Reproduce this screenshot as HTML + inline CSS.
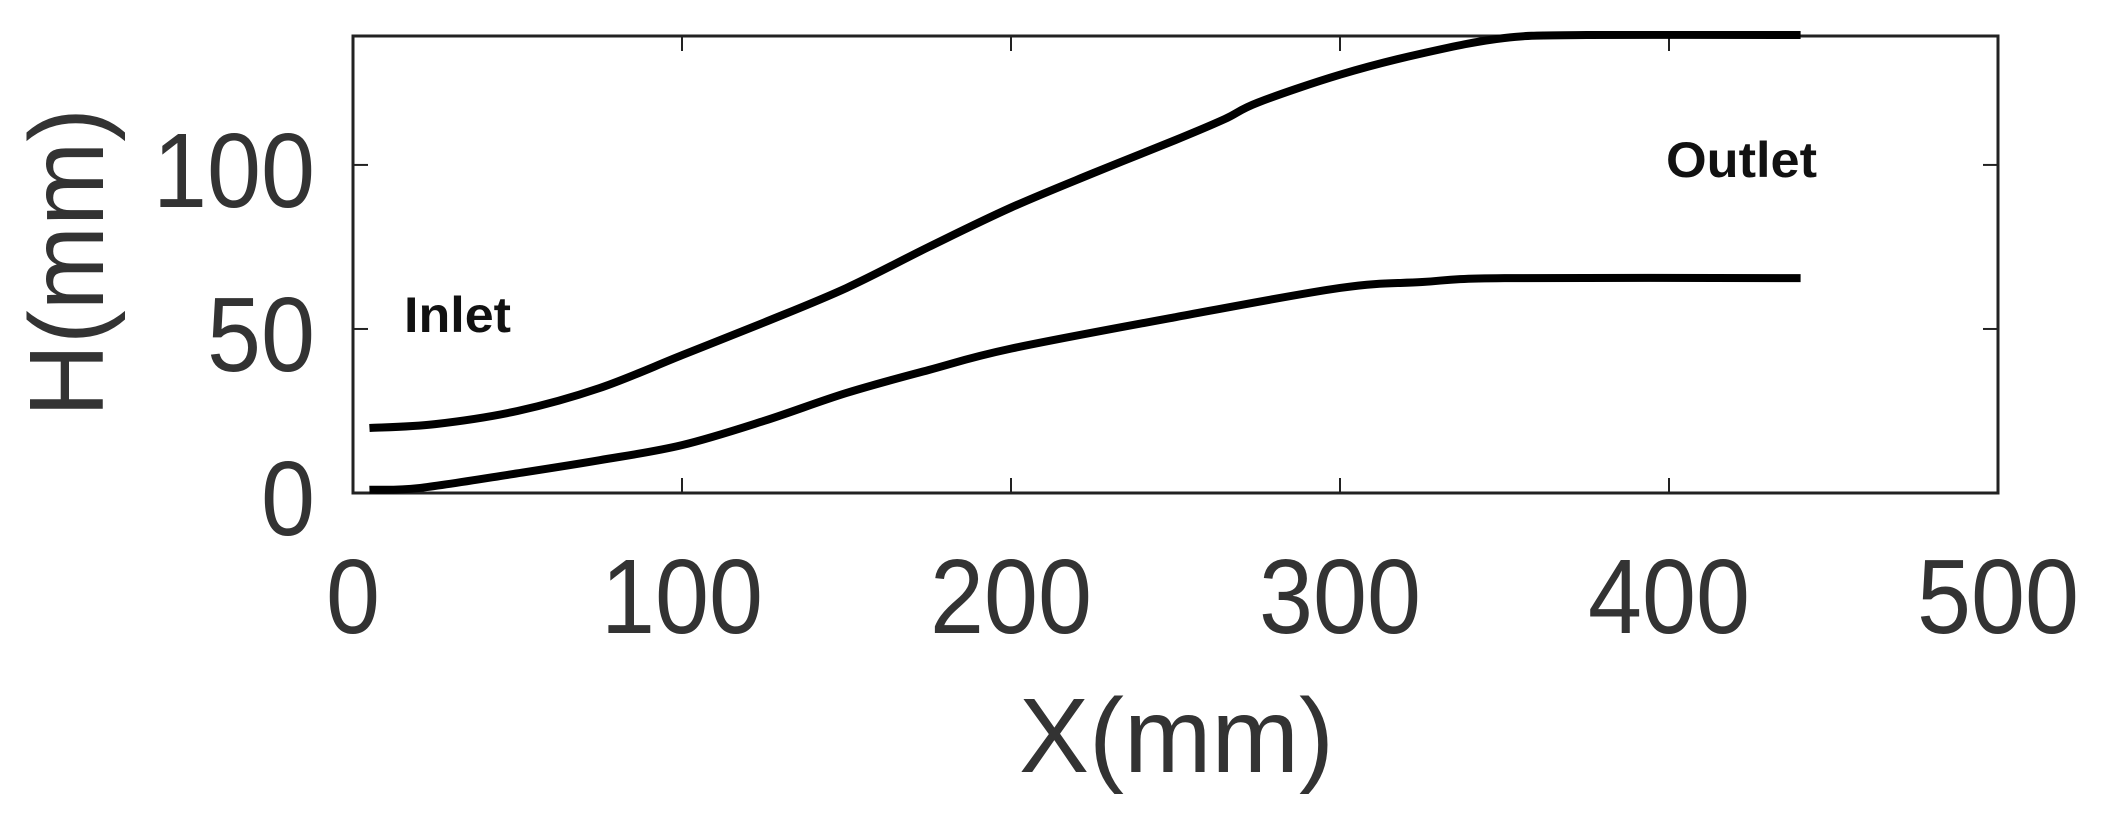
<!DOCTYPE html>
<html><head><meta charset="utf-8"><style>
body{margin:0;background:#fff;width:2103px;height:820px;overflow:hidden}
text{font-family:"Liberation Sans",sans-serif}
</style></head><body>
<svg id="chart" width="2103" height="820" xmlns="http://www.w3.org/2000/svg">
<defs><clipPath id="pc"><rect x="353" y="31" width="1645" height="466"/></clipPath></defs>
<rect x="353" y="36" width="1645" height="457" fill="#fff" stroke="#222" stroke-width="3"/>
<g id="ticks"></g>
<g id="lines" clip-path="url(#pc)"></g>
<text x="404" y="332" font-size="50" font-weight="bold" fill="#111" textLength="107" lengthAdjust="spacingAndGlyphs">Inlet</text>
<text x="1666" y="177" font-size="50" font-weight="bold" fill="#111" textLength="151" lengthAdjust="spacingAndGlyphs">Outlet</text>
<text x="1019" y="772" font-size="106" fill="#333" textLength="315" lengthAdjust="spacingAndGlyphs">X(mm)</text>
<text transform="translate(103,417) rotate(-90)" font-size="106" fill="#333" textLength="309" lengthAdjust="spacingAndGlyphs">H(mm)</text>
</svg>
<script>
const xTicks=[0,100,200,300,400,500];
const yTicks=[0,50,100];
const upperX=[5,25,50,75,100,125,150,175,200,225,250,265,275,300,325,350,375,440];
const upperH=[19.8,21,25,32,42,52,62.5,75,87,97.5,107.6,114,119,127.5,134,138.7,139.6,139.6];
const lowerX=[5,20,50,75,100,125,150,175,200,250,300,325,350,440];
const lowerH=[1,1.5,6,10,14.6,22,30.5,37.5,44,53.6,62.5,64.3,65.5,65.5];
const X0=353,X1=1998,Y0=493,Y1=36,XMAX=500,YMAX=139.3;
const sx=v=>X0+v/XMAX*(X1-X0);
const sy=v=>Y0-v/YMAX*(Y0-Y1);
const NS='http://www.w3.org/2000/svg';
const tk=document.getElementById('ticks');
function mk(t,a){const e=document.createElementNS(NS,t);for(const k in a)e.setAttribute(k,a[k]);return e;}
xTicks.forEach(v=>{
  if(v>0&&v<500){
    const l=mk('line',{x1:sx(v),x2:sx(v),y1:Y0,y2:Y0-15,stroke:'#222','stroke-width':2});
    
    
    tk.appendChild(l);
    const l2=mk('line',{x1:sx(v),x2:sx(v),y1:Y1,y2:Y1+15,stroke:'#222','stroke-width':2});
    
    
    tk.appendChild(l2);
  }
  const s=String(v);
  const t=mk('text',{x:sx(v)-s.length*27,y:633,'font-size':106,fill:'#333',textLength:s.length*54,lengthAdjust:'spacingAndGlyphs'});
  t.textContent=s;
  
  
  tk.appendChild(t);
});
yTicks.forEach(v=>{
  if(v>0){
    const l=mk('line',{x1:X0,x2:X0+15,y1:sy(v),y2:sy(v),stroke:'#222','stroke-width':2});
    
    
    tk.appendChild(l);
    const l2=mk('line',{x1:X1,x2:X1-15,y1:sy(v),y2:sy(v),stroke:'#222','stroke-width':2});
    
    
    tk.appendChild(l2);
  }
  const s=String(v);
  const t=mk('text',{x:315-s.length*54,y:sy(v)+42,'font-size':106,fill:'#333',textLength:s.length*54,lengthAdjust:'spacingAndGlyphs'});
  t.textContent=s;
  
  
  tk.appendChild(t);
});
function path(xs,hs){
  let d='M'+sx(xs[0])+','+sy(hs[0]);
  for(let i=1;i<xs.length;i++){
    const p0=i>1?[xs[i-2],hs[i-2]]:[xs[i-1],hs[i-1]];
    const p1=[xs[i-1],hs[i-1]],p2=[xs[i],hs[i]];
    const p3=i<xs.length-1?[xs[i+1],hs[i+1]]:p2;
    const c1=[p1[0]+(p2[0]-p0[0])/6,p1[1]+(p2[1]-p0[1])/6];
    const c2=[p2[0]-(p3[0]-p1[0])/6,p2[1]-(p3[1]-p1[1])/6];
    d+=' C'+sx(c1[0])+','+sy(c1[1])+' '+sx(c2[0])+','+sy(c2[1])+' '+sx(p2[0])+','+sy(p2[1]);
  }
  return d;
}
const lg=document.getElementById('lines');
const up=mk('path',{d:path(upperX,upperH),fill:'none',stroke:'#000','stroke-width':8});


lg.appendChild(up);
const lo=mk('path',{d:path(lowerX,lowerH),fill:'none',stroke:'#000','stroke-width':8});


lg.appendChild(lo);
</script>
</body></html>
